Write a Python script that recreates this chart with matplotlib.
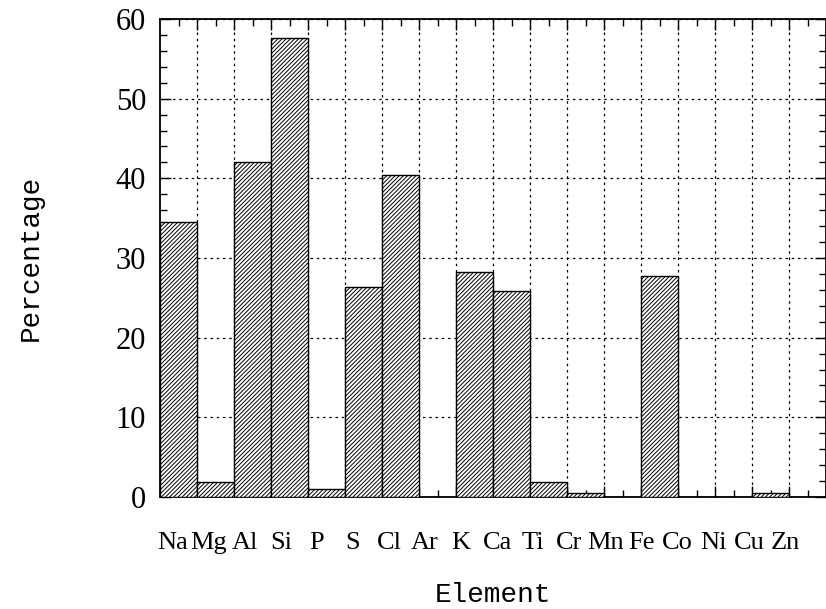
import matplotlib
matplotlib.use("Agg")
import matplotlib.pyplot as plt
import numpy as np

# data
elements = ['Na', 'Mg', 'Al', 'Si', 'P', 'S', 'Cl', 'Ar', 'K', 'Ca',
            'Ti', 'Cr', 'Mn', 'Fe', 'Co', 'Ni', 'Cu', 'Zn']
percent = [34.5, 1.9, 42.0, 57.6, 1.0, 26.3, 40.4, 0.0, 28.3, 25.8,
           1.9, 0.5, 0.0, 27.7, 0.0, 0.0, 0.5, 0.0]

plt.rcParams['hatch.linewidth'] = 0.7

fig = plt.figure(figsize=(8.26, 6.09), dpi=100)
ax = fig.add_axes([160/826, 1-497/609, 666/826, 478/609])

n = len(elements)
x = np.arange(n)
ax.bar(x + 0.5, percent, width=1.0, color='white', edgecolor='black',
       linewidth=1.0, hatch='/' * 8, zorder=3)

ax.set_xlim(0, n)
ax.set_ylim(0, 60)

# grid at bar edges, small ticks at bar centres
ax.set_xticks(np.arange(1, n))
ax.set_xticks(x + 0.5, minor=True)
ax.set_xticklabels([])
ax.set_yticks(np.arange(0, 61, 10))
ax.set_yticks(np.arange(0, 61, 2), minor=True)
ax.grid(True, which='major', color='black', linestyle=(0, (2, 3)),
        linewidth=0.9, zorder=1)

ax.tick_params(axis='both', which='both', direction='in', top=True, right=True)
ax.tick_params(axis='both', which='major', length=8, width=1)
ax.tick_params(axis='both', which='minor', length=5, width=1)
ax.tick_params(axis='y', which='major', pad=10)

for lab in ax.get_yticklabels():
    lab.set_fontfamily('Liberation Serif')
    lab.set_fontsize(22)

for s in ax.spines.values():
    s.set_linewidth(1.3)

# element names sit slightly compressed under the bars
lab_pos = 0.35 + 0.9735 * x
sec = ax.secondary_xaxis('bottom')
sec.set_xticks(lab_pos)
sec.set_xticklabels(elements, fontfamily='Liberation Serif', fontsize=19)
sec.tick_params(length=0, pad=25)
sec.spines['bottom'].set_visible(False)

ax.set_xlabel('Element', fontfamily='Liberation Mono', fontsize=20, labelpad=58)
ax.set_ylabel('Percentage', fontfamily='Liberation Mono', fontsize=20, labelpad=52)

fig.savefig('out.png', dpi=100)
